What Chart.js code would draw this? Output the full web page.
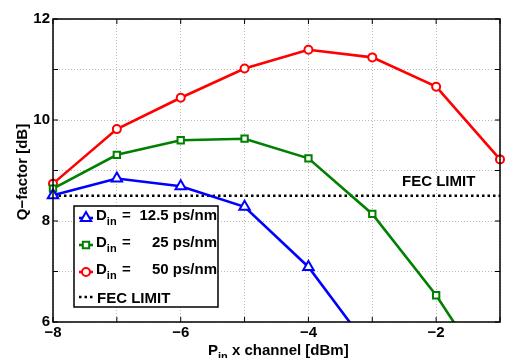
<!DOCTYPE html>
<html>
<head>
<meta charset="utf-8">
<script src="https://cdn.jsdelivr.net/npm/chart.js@4.4.1/dist/chart.umd.min.js"></script>
<style>
  html, body { margin: 0; padding: 0; background: #fff; }
  #wrap { width: 508px; height: 358px; }
</style>
</head>
<body>
<div id="wrap"><canvas id="q-chart"></canvas></div>
<script>
// values
const powerDbm = [-8, -7, -6, -5, -4, -3, -2, -1]
const q12p5 = [8.51, 8.84, 8.69, 8.28, 7.09, 5.4]
const q25 = [8.64, 9.31, 9.6, 9.63, 9.24, 8.14, 6.53, 4.6]
const q50 = [8.74, 9.82, 10.44, 11.02, 11.39, 11.24, 10.66, 9.22]
const fecLimit = 8.5
const xTickLabels = [-8, -6, -4, -2]
const yTickLabels = [6, 8, 10, 12]
const dispersionLabels = ['12.5', '25', '50']

const FONT = 'Helvetica, Arial, "Liberation Sans", sans-serif'
const BLUE = '#0000ff', GREEN = '#008000', RED = '#ff0000'

const pts = (ys) => ys.map((y, i) => ({ x: powerDbm[i], y }))
const minus = (v) => String(v).replace('-', '\u2212')

const series = [
  { ys: q12p5, color: BLUE, style: 'triangle', r: 6 },
  { ys: q25, color: GREEN, style: 'rect', r: 4.5 },
  { ys: q50, color: RED, style: 'circle', r: 4 },
]

const datasets = series.map((s, i) => ({
  label: 'D_in = ' + dispersionLabels[i] + ' ps/nm',
  data: pts(s.ys),
  borderColor: s.color,
  backgroundColor: '#fff',
  borderWidth: 2.6,
  pointStyle: s.style,
  pointRadius: s.r,
  pointBorderWidth: 2,
  pointBackgroundColor: '#fff',
  pointBorderColor: s.color,
  tension: 0,
  clip: { left: 8, top: 8, right: 8, bottom: 0 },
}))

datasets.push({
  label: 'FEC LIMIT',
  data: [{ x: powerDbm[0], y: fecLimit }, { x: powerDbm[powerDbm.length - 1], y: fecLimit }],
  borderColor: '#000',
  borderWidth: 2.5,
  borderDash: [2.5, 3],
  pointRadius: 0,
  clip: 0,
})

// subscript text helper: parts = [[text, sub?], ...]
function drawParts(ctx, parts, x, y, size) {
  let cx = x
  parts.forEach(([txt, sub]) => {
    const fs = sub ? Math.round(size * 0.72) : size
    ctx.font = 'bold ' + fs + 'px ' + FONT
    ctx.fillText(txt, cx, sub ? y + 5 : y)
    cx += ctx.measureText(txt).width
  })
  return cx
}

const matlabLook = {
  id: 'matlabLook',
  afterDraw(chart) {
    const { ctx, chartArea: a, scales } = chart
    ctx.save()

    // inward ticks on all four sides
    ctx.strokeStyle = '#000'
    ctx.lineWidth = 1
    ctx.beginPath()
    for (let v = -8; v <= -1; v++) {
      const px = scales.x.getPixelForValue(v)
      ctx.moveTo(px, a.bottom); ctx.lineTo(px, a.bottom - 5)
      ctx.moveTo(px, a.top); ctx.lineTo(px, a.top + 5)
    }
    for (let v = 6; v <= 12; v++) {
      const py = scales.y.getPixelForValue(v)
      ctx.moveTo(a.left, py); ctx.lineTo(a.left + 5, py)
      ctx.moveTo(a.right, py); ctx.lineTo(a.right - 5, py)
    }
    ctx.stroke()

    // axes box
    ctx.lineWidth = 1.5
    ctx.strokeRect(a.left, a.top, a.right - a.left, a.bottom - a.top)

    // FEC LIMIT annotation
    ctx.fillStyle = '#000'
    ctx.textBaseline = 'alphabetic'
    ctx.textAlign = 'left'
    ctx.font = 'bold 15px ' + FONT
    ctx.fillText('FEC LIMIT', 402, 186)

    // legend box
    const lx = 74, ly = 206, lw = 144, lh = 101
    ctx.fillStyle = '#fff'
    ctx.fillRect(lx, ly, lw, lh)
    ctx.lineWidth = 1.5
    ctx.strokeStyle = '#000'
    ctx.strokeRect(lx, ly, lw, lh)

    const baselines = [220, 247, 274, 302]
    series.forEach((s, i) => {
      const by = baselines[i], my = by - 2
      ctx.strokeStyle = s.color
      ctx.lineWidth = 2.6
      ctx.setLineDash([])
      ctx.beginPath(); ctx.moveTo(79, my); ctx.lineTo(93, my); ctx.stroke()
      ctx.fillStyle = '#fff'
      ctx.lineWidth = 2
      Chart.helpers.drawPoint(ctx, { pointStyle: s.style, radius: s.r, borderWidth: 2, rotation: 0 }, 86, my)
      ctx.fillStyle = '#000'
      ctx.textAlign = 'left'
      drawParts(ctx, [['D', false], ['in', true]], 96, by, 15)
      ctx.font = 'bold 15px ' + FONT
      ctx.fillText('=', 122, by)
      ctx.textAlign = 'right'
      ctx.fillText(dispersionLabels[i] + ' ps/nm', 217, by)
    })
    // FEC row
    ctx.strokeStyle = '#000'
    ctx.lineWidth = 2.5
    ctx.setLineDash([2.5, 3])
    ctx.beginPath(); ctx.moveTo(79, 297); ctx.lineTo(94, 297); ctx.stroke()
    ctx.setLineDash([])
    ctx.fillStyle = '#000'
    ctx.textAlign = 'left'
    ctx.font = 'bold 15px ' + FONT
    ctx.fillText('FEC LIMIT', 97, 303)

    // axis titles
    drawParts(ctx, [['P', false], ['in', true], [' x channel [dBm]', false]], 208, 355, 15)
    ctx.translate(27, 172)
    ctx.rotate(-Math.PI / 2)
    ctx.textAlign = 'center'
    ctx.font = 'bold 15px ' + FONT
    ctx.fillText('Q\u2212factor [dB]', 0, 0)
    ctx.restore()
  },
}

new Chart(document.getElementById('q-chart'), {
  type: 'line',
  data: { datasets },
  options: {
    responsive: true,
    maintainAspectRatio: false,
    animation: false,
    events: [],
    layout: { padding: { top: 19, right: 1, left: 0, bottom: 0 } },
    scales: {
      x: {
        type: 'linear',
        min: -8,
        max: -1,
        afterFit: (s) => { s.height = 36 },
        ticks: {
          stepSize: 1,
          autoSkip: false,
          maxRotation: 0,
          padding: 2,
          color: '#000',
          font: { family: FONT, size: 15, weight: 'bold' },
          callback: (v) => (xTickLabels.includes(v) ? minus(v) : ''),
        },
        grid: { color: '#b8b8b8', lineWidth: 1, drawTicks: false },
        border: { display: false, dash: [1, 2] },
      },
      y: {
        min: 6,
        max: 12,
        afterFit: (s) => { s.width = 53 },
        ticks: {
          stepSize: 1,
          autoSkip: false,
          padding: 3,
          color: '#000',
          font: { family: FONT, size: 15, weight: 'bold' },
          callback: (v) => (yTickLabels.includes(v) ? String(v) : ''),
        },
        grid: { color: '#b8b8b8', lineWidth: 1, drawTicks: false },
        border: { display: false, dash: [1, 2] },
      },
    },
    plugins: {
      legend: { display: false },
      tooltip: { enabled: false },
    },
  },
  plugins: [matlabLook],
})
</script>
</body>
</html>
